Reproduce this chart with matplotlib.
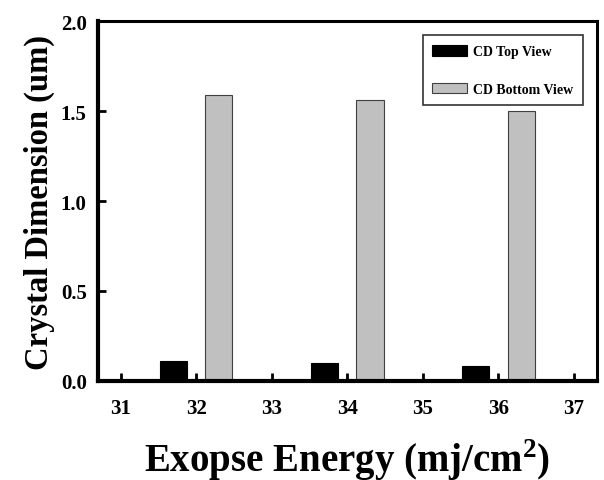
import numpy as np
import matplotlib
matplotlib.use('Agg')
import matplotlib.pyplot as plt

plt.rcParams['font.family'] = ['Liberation Serif', 'DejaVu Serif']
plt.rcParams['font.weight'] = 'bold'
plt.rcParams['mathtext.fontset'] = 'custom'
plt.rcParams['mathtext.rm'] = 'Liberation Serif:bold'
plt.rcParams['mathtext.bf'] = 'Liberation Serif:bold'

energy = [32, 34, 36]
top_view = [0.11, 0.10, 0.085]
bottom_view = [1.59, 1.56, 1.50]
xticks = [31, 32, 33, 34, 35, 36, 37]
yticks = [0.0, 0.5, 1.0, 1.5, 2.0]

fig = plt.figure(figsize=(6.04, 4.81), dpi=100)
ax = fig.add_axes([0.162, 0.206, 0.826, 0.748])

x = np.array(energy, dtype=float)
w = 0.36
ax.bar(x - 0.3, top_view, w, color='black', edgecolor='black', linewidth=0.8,
       label='CD Top View')
ax.bar(x + 0.3, bottom_view, w, color='#c0c0c0', edgecolor='#404040', linewidth=0.8,
       label='CD Bottom View')

ax.set_xlim(30.7, 37.3)
ax.set_ylim(0, 2.0)
ax.set_xticks(xticks)
ax.set_yticks(yticks)
ax.set_yticklabels(['%.1f' % v for v in yticks])
ax.tick_params(direction='in', length=6, width=2, labelsize=15, pad=12)
ax.tick_params(axis='y', pad=8)
for s in ax.spines.values():
    s.set_linewidth(2.2)
ax.spines['bottom'].set_linewidth(3)
ax.spines['left'].set_linewidth(3)

ax.set_xlabel('Exopse Energy (mj/cm$^{2}$)', fontsize=28, fontweight='bold', labelpad=13)
ax.set_ylabel('Crystal Dimension (um)', fontsize=23.5, fontweight='bold', labelpad=4)

leg = ax.legend(loc='upper right', bbox_to_anchor=(0.980, 0.972), fontsize=10,
                frameon=True, fancybox=False, edgecolor='black',
                handlelength=2.5, handleheight=0.8, handletextpad=0.4,
                labelspacing=1.75, borderpad=0.7, borderaxespad=0.3)
leg.get_frame().set_linewidth(1.2)

fig.savefig('out.png', dpi=100)
